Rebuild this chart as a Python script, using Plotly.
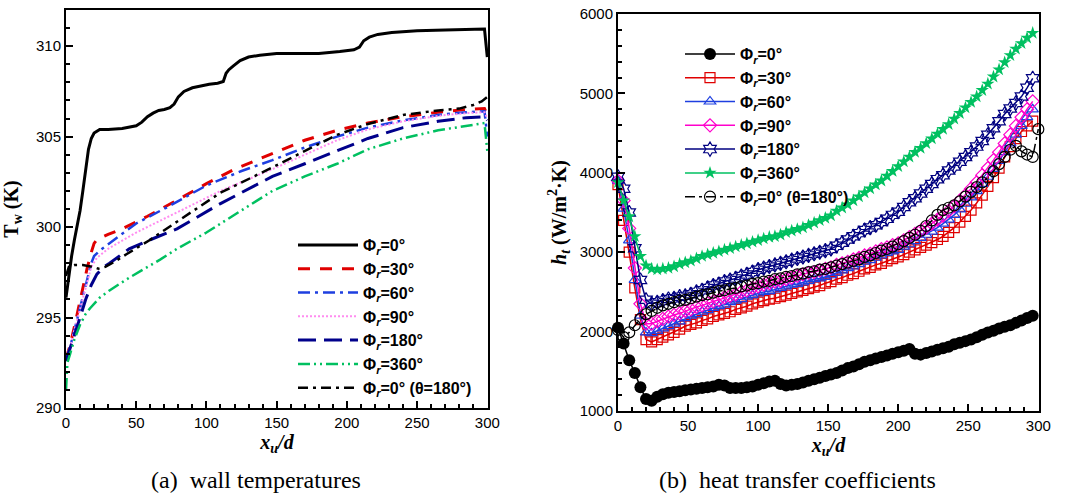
import plotly.graph_objects as go

# ---------------- (a) wall temperatures ----------------
tw_names = ["Φ<sub><i>r</i></sub>=0°", "Φ<sub><i>r</i></sub>=30°", "Φ<sub><i>r</i></sub>=60°",
            "Φ<sub><i>r</i></sub>=90°", "Φ<sub><i>r</i></sub>=180°", "Φ<sub><i>r</i></sub>=360°",
            "Φ<sub><i>r</i></sub>=0° (θ=180°)"]

tw0_x = [0, 2, 4, 6, 8, 10, 12, 14, 16, 18, 20, 24, 30, 40, 50, 54, 58, 62, 66, 70, 74, 77, 80, 84, 90,
         96, 102, 108, 112, 114, 116, 119, 124, 130, 138, 150, 165, 180, 195, 205, 209, 212, 216, 222,
         232, 250, 270, 290, 298, 300]
tw0_y = [296.1, 297.4, 298.4, 299.3, 300.1, 300.9, 302.0, 303.3, 304.3, 304.9, 305.2, 305.4, 305.4,
         305.45, 305.6, 305.8, 306.1, 306.3, 306.45, 306.5, 306.6, 306.8, 307.2, 307.5, 307.7, 307.8,
         307.9, 307.95, 308.05, 308.5, 308.7, 308.9, 309.2, 309.4, 309.5, 309.6, 309.6, 309.6, 309.7,
         309.8, 309.95, 310.3, 310.5, 310.65, 310.75, 310.85, 310.9, 310.95, 310.95, 309.4]

tw30_x = [0, 3, 6, 9, 12, 15, 18, 20, 22, 30, 40, 58, 77, 100, 120, 145, 170, 193, 215, 240, 265, 285, 298, 300]
tw30_y = [292.7, 293.5, 294.5, 295.6, 296.6, 297.7, 298.6, 299.1, 299.3, 299.6, 299.9, 300.6, 301.4,
          302.4, 303.2, 304.0, 304.8, 305.35, 305.75, 306.1, 306.35, 306.5, 306.55, 306.2]

tw60_x = [0, 3, 6, 9, 12, 15, 18, 20, 24, 36, 50, 72, 100, 125, 147, 170, 193, 215, 240, 265, 285, 298, 300]
tw60_y = [292.7, 293.4, 294.3, 295.2, 296.1, 297.0, 298.0, 298.4, 298.7, 299.4, 300.2, 301.1, 302.3,
          303.1, 303.7, 304.4, 305.0, 305.5, 305.9, 306.2, 306.35, 306.4, 305.0]

tw90_x = [0, 3, 6, 9, 12, 15, 18, 22, 30, 50, 79, 110, 147, 170, 193, 215, 240, 265, 285, 298, 300]
tw90_y = [292.7, 293.4, 294.3, 295.2, 296.1, 297.0, 297.8, 298.3, 298.8, 299.7, 300.8, 302.0, 303.2,
          304.0, 304.8, 305.4, 305.85, 306.15, 306.3, 306.35, 306.0]

tw180_x = [0, 3, 6, 10, 14, 18, 22, 27, 31, 45, 60, 79, 110, 147, 170, 193, 215, 240, 265, 285, 298, 300]
tw180_y = [292.6, 293.3, 294.1, 295.0, 296.0, 296.8, 297.4, 297.8, 298.0, 298.8, 299.3, 299.9, 301.3,
           302.8, 303.5, 304.2, 304.9, 305.5, 305.85, 306.05, 306.1, 305.9]

tw360_x = [0, 1, 3, 6, 10, 14, 17, 24, 31, 45, 67, 79, 100, 125, 147, 170, 193, 215, 240, 265, 285, 298, 300]
tw360_y = [291.0, 292.5, 293.0, 293.8, 294.6, 295.2, 295.5, 296.1, 296.5, 297.2, 298.2, 298.8, 299.7,
           300.9, 302.0, 302.8, 303.5, 304.3, 304.9, 305.35, 305.6, 305.75, 304.2]

twt_x = [0, 2, 6, 12, 19, 23, 28, 35, 43, 60, 79, 110, 147, 170, 193, 215, 240, 265, 280, 290, 296, 300]
twt_y = [297.3, 297.8, 297.9, 297.9, 297.8, 297.7, 297.8, 298.1, 298.5, 299.3, 300.3, 301.9, 303.3,
         304.2, 305.1, 305.7, 306.2, 306.45, 306.55, 306.75, 306.95, 307.2]

tw_x = [tw0_x, tw30_x, tw60_x, tw90_x, tw180_x, tw360_x, twt_x]
tw_y = [tw0_y, tw30_y, tw60_y, tw90_y, tw180_y, tw360_y, twt_y]
tw_colors = ["#000000", "#E00000", "#1E3FE0", "#FF8CF0", "#00008B", "#00C060", "#000000"]
tw_dash = ["solid", "12px,10px", "12px,5px,3px,5px", "2px,2px", "18px,8px",
           "12px,4px,2px,4px,2px,4px", "10px,5px,3px,5px"]
tw_width = [3, 3, 2.5, 2, 3, 2.5, 2.5]

# ---------------- (b) heat transfer coefficients ----------------
h_x = [0, 4, 8, 12, 16, 20, 24, 28, 32, 36,
       40, 44, 48, 52, 56, 60, 64, 68, 72, 76,
       80, 84, 88, 92, 96, 100, 104, 108, 112, 116,
       120, 124, 128, 132, 136, 140, 144, 148, 152, 156,
       160, 164, 168, 172, 176, 180, 184, 188, 192, 196,
       200, 204, 208, 212, 216, 220, 224, 228, 232, 236,
       240, 244, 248, 252, 256, 260, 264, 268, 272, 276,
       280, 284, 288, 292, 296]
h_x_theta = h_x + [300]

h0 = [2050, 1850, 1640, 1480, 1300, 1150, 1130, 1180, 1210, 1230,
      1240, 1250, 1260, 1270, 1280, 1290, 1300, 1310, 1330, 1320,
      1290, 1290, 1290, 1300, 1310, 1330, 1350, 1370, 1380, 1340,
      1320, 1330, 1340, 1360, 1380, 1400, 1420, 1440, 1460, 1480,
      1510, 1540, 1560, 1590, 1620, 1640, 1660, 1680, 1700, 1720,
      1740, 1760, 1780, 1720, 1710, 1730, 1750, 1770, 1790, 1810,
      1840, 1860, 1880, 1900, 1930, 1960, 1990, 2010, 2040, 2060,
      2080, 2110, 2140, 2170, 2200]
h30 = [3850, 3400, 3000, 2550, 2150, 1900, 1870, 1900, 1930, 1960,
       1990, 2030, 2070, 2090, 2110, 2140, 2160, 2190, 2210, 2230,
       2250, 2280, 2300, 2320, 2350, 2370, 2390, 2410, 2420, 2440,
       2460, 2480, 2500, 2520, 2540, 2560, 2580, 2610, 2630, 2660,
       2680, 2710, 2730, 2760, 2790, 2810, 2840, 2860, 2890, 2920,
       2940, 2970, 3000, 3030, 3060, 3090, 3120, 3160, 3200, 3250,
       3310, 3380, 3450, 3530, 3620, 3720, 3830, 3940, 4060, 4200,
       4330, 4430, 4520, 4590, 4650]
h60 = [3900, 3550, 3150, 2650, 2200, 1990, 1980, 2010, 2040, 2070,
       2100, 2130, 2170, 2200, 2220, 2250, 2270, 2300, 2320, 2340,
       2370, 2390, 2410, 2440, 2460, 2480, 2500, 2510, 2530, 2550,
       2570, 2590, 2600, 2620, 2640, 2660, 2670, 2690, 2710, 2740,
       2770, 2800, 2820, 2850, 2880, 2900, 2930, 2960, 2990, 3010,
       3030, 3070, 3100, 3140, 3180, 3220, 3260, 3310, 3360, 3410,
       3470, 3540, 3610, 3690, 3770, 3860, 3950, 4050, 4150, 4260,
       4370, 4480, 4590, 4700, 4800]
h90 = [3900, 3650, 3300, 2800, 2350, 2100, 2100, 2130, 2160, 2190,
       2210, 2230, 2260, 2280, 2310, 2330, 2360, 2380, 2400, 2430,
       2450, 2470, 2500, 2520, 2550, 2570, 2590, 2610, 2630, 2640,
       2660, 2680, 2700, 2720, 2740, 2750, 2770, 2790, 2810, 2840,
       2860, 2880, 2910, 2930, 2960, 2980, 3010, 3040, 3060, 3090,
       3110, 3150, 3190, 3230, 3270, 3310, 3360, 3410, 3460, 3520,
       3580, 3650, 3720, 3800, 3880, 3970, 4060, 4160, 4260, 4370,
       4480, 4590, 4700, 4800, 4900]
h180 = [3950, 3800, 3500, 3050, 2650, 2400, 2350, 2370, 2390, 2410,
        2420, 2440, 2450, 2470, 2500, 2520, 2550, 2580, 2600, 2630,
        2650, 2670, 2700, 2720, 2750, 2780, 2800, 2820, 2840, 2860,
        2880, 2900, 2920, 2940, 2960, 2980, 3000, 3020, 3040, 3080,
        3120, 3160, 3200, 3240, 3280, 3310, 3340, 3380, 3420, 3470,
        3510, 3570, 3630, 3680, 3740, 3800, 3860, 3920, 3970, 4030,
        4080, 4140, 4200, 4260, 4330, 4400, 4480, 4560, 4650, 4740,
        4810, 4880, 4960, 5070, 5190]
h360 = [3880, 3650, 3450, 3200, 2950, 2830, 2790, 2780, 2790, 2800,
        2820, 2850, 2870, 2890, 2920, 2950, 2970, 2990, 3010, 3030,
        3050, 3070, 3090, 3110, 3130, 3150, 3170, 3190, 3200, 3220,
        3250, 3270, 3290, 3310, 3340, 3370, 3400, 3430, 3460, 3520,
        3560, 3600, 3650, 3700, 3750, 3800, 3850, 3900, 3960, 4020,
        4080, 4140, 4200, 4260, 4310, 4370, 4430, 4490, 4550, 4610,
        4680, 4750, 4820, 4890, 4960, 5040, 5120, 5210, 5300, 5390,
        5480, 5560, 5630, 5700, 5760]
h0t = [2020, 1930, 1990, 2080, 2160, 2220, 2260, 2300, 2330, 2350,
       2370, 2390, 2400, 2420, 2440, 2460, 2470, 2490, 2510, 2520,
       2540, 2550, 2570, 2580, 2600, 2610, 2630, 2640, 2660, 2670,
       2690, 2700, 2720, 2730, 2750, 2760, 2780, 2790, 2810, 2830,
       2850, 2870, 2890, 2910, 2940, 2960, 2990, 3020, 3040, 3070,
       3100, 3140, 3180, 3220, 3270, 3330, 3400, 3470, 3530, 3560,
       3590, 3640, 3700, 3760, 3820, 3880, 3940, 4020, 4110, 4200,
       4290, 4340, 4270, 4230, 4200, 4550]

h_series = [h0, h30, h60, h90, h180, h360, h0t]
h_xs = [h_x, h_x, h_x, h_x, h_x, h_x, h_x_theta]
h_colors = ["#000000", "#E00000", "#1E3FE0", "#FF00CC", "#000080", "#00C060", "#000000"]
h_symbols = ["circle", "square-open", "triangle-up-open", "diamond-open", "hexagram-open", "star", "circle-open"]
h_sizes = [12, 10, 10, 10, 11, 10, 11]
h_dash = ["solid"] * 6 + ["10px,4px,3px,4px"]

fig = go.Figure()

for i in range(7):
    fig.add_trace(go.Scatter(
        x=tw_x[i], y=tw_y[i], mode="lines", name="<b>" + tw_names[i] + "</b>",
        line=dict(color=tw_colors[i], width=tw_width[i], dash=tw_dash[i]),
        xaxis="x", yaxis="y", legend="legend", cliponaxis=True))

for i in range(7):
    filled = h_symbols[i] in ("circle", "star")
    fig.add_trace(go.Scatter(
        x=h_xs[i], y=h_series[i], mode="lines+markers", name="<b>" + tw_names[i] + "</b>",
        line=dict(color=h_colors[i], width=1.5, dash=h_dash[i]),
        marker=dict(symbol=h_symbols[i], size=h_sizes[i], color=h_colors[i],
                    line=dict(color=h_colors[i], width=1.2 if not filled else 0)),
        xaxis="x2", yaxis="y2", legend="legend2", cliponaxis=False))

tickfont = dict(family="Liberation Sans, Arial", size=15, color="black")
axis_common = dict(showgrid=False, zeroline=False, showline=True, linecolor="black", linewidth=2,
                   mirror=True, ticks="inside", ticklen=7, tickwidth=1.5, tickcolor="black",
                   tickfont=tickfont, automargin=False)
title_font = dict(family="Liberation Serif, Times New Roman", size=20, color="black")

fig.update_layout(
    width=1069, height=498, margin=dict(l=0, r=0, t=0, b=0, autoexpand=False),
    paper_bgcolor="white", plot_bgcolor="white",
    xaxis=dict(domain=[66 / 1069, 488 / 1069], range=[0, 300.5], dtick=50, tick0=0,
               minor=dict(dtick=10, ticks="inside", ticklen=4, tickcolor="black"),
               title=dict(text="<b><i>x<sub>u</sub>/d</i></b>", font=title_font, standoff=4),
               anchor="y", **axis_common),
    yaxis=dict(domain=[90 / 498, 488 / 498], range=[290, 312], dtick=5, tick0=290,
               minor=dict(dtick=1, ticks="inside", ticklen=4, tickcolor="black"),
               title=dict(text="<b>T<sub>w</sub> (K)</b>", font=title_font, standoff=12),
               anchor="x", **axis_common),
    xaxis2=dict(domain=[618 / 1069, 1039 / 1069], range=[0, 300.5], dtick=50, tick0=0,
                minor=dict(dtick=10, ticks="inside", ticklen=4, tickcolor="black"),
                title=dict(text="<b><i>x<sub>u</sub>/d</i></b>", font=title_font, standoff=4),
                anchor="y2", **axis_common),
    yaxis2=dict(domain=[87 / 498, 484 / 498], range=[1000, 6000], dtick=1000, tick0=1000,
                minor=dict(dtick=200, ticks="inside", ticklen=4, tickcolor="black"),
                title=dict(text="<b><i>h</i><sub><i>t</i></sub> (W/m<sup>2</sup>·K)</b>",
                           font=title_font, standoff=8),
                anchor="x2", **axis_common),
    legend=dict(x=293 / 1069, y=(498 - 228) / 498, xanchor="left", yanchor="top",
                bgcolor="rgba(0,0,0,0)", itemwidth=60,
                font=dict(family="Liberation Sans, Arial", size=16, color="black")),
    legend2=dict(x=680 / 1069, y=(498 - 37) / 498, xanchor="left", yanchor="top",
                 bgcolor="rgba(0,0,0,0)", itemwidth=50,
                 font=dict(family="Liberation Sans, Arial", size=16, color="black")),
    annotations=[
        dict(text="(a)  wall temperatures", x=256 / 1069, y=(498 - 480) / 498, xref="paper",
             yref="paper", showarrow=False, xanchor="center", yanchor="middle",
             font=dict(family="Liberation Serif, Times New Roman", size=24, color="black")),
        dict(text="(b)  heat transfer coefficients", x=798 / 1069, y=(498 - 480) / 498,
             xref="paper", yref="paper", showarrow=False, xanchor="center", yanchor="middle",
             font=dict(family="Liberation Serif, Times New Roman", size=24, color="black")),
    ],
)

fig.write_html("out.html", config={"displayModeBar": False},
               post_script="document.body.style.margin='0';")
